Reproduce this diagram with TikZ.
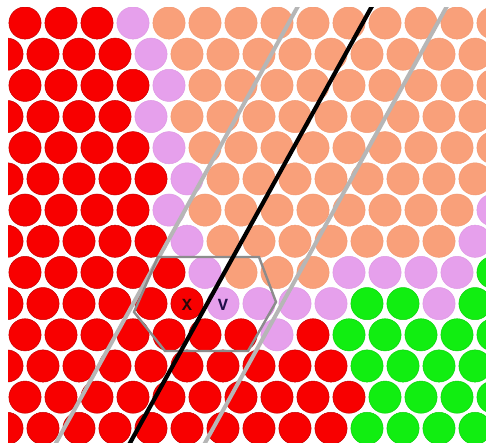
\documentclass[tikz,border=0pt]{standalone}
\usepackage{fontspec}
\newfontfamily\lblfont{Liberation Mono}
\definecolor{cR}{HTML}{F80000}
\definecolor{cP}{HTML}{E6A0EC}
\definecolor{cO}{HTML}{F9A07A}
\definecolor{cG}{HTML}{11EE11}
\definecolor{eR}{HTML}{C40000}
\definecolor{eP}{HTML}{DE98E4}
\definecolor{eO}{HTML}{F29A74}
\definecolor{eG}{HTML}{10D010}
\definecolor{greyln}{HTML}{B6B6B6}
\definecolor{hexln}{HTML}{8C8C8C}
\definecolor{xcol}{HTML}{2A0808}
\definecolor{vcol}{HTML}{22104A}
\tikzset{
  disc/.style={line width=0.5pt},
  greyline/.style={draw=greyln, line width=4pt},
  blackline/.style={draw=black, line width=4.2pt},
  hexline/.style={draw=hexln, line width=2.4pt, line join=miter},
  lbl/.style={font=\lblfont\bfseries\fontsize{17pt}{17pt}\selectfont, inner sep=0pt}
}
\begin{document}
\begin{tikzpicture}[x=1pt,y=-1pt]
\useasboundingbox (0,0) rectangle (486,443);
\fill[white] (0,0) rectangle (486,443);
\begin{scope}
\clip (8,8) rectangle (486,443);
\foreach \row [count=\k from 0] in {
  {R,R,R,P,O,O,O,O,O,O,O,O,O,O},
  {R,R,R,R,P,O,O,O,O,O,O,O,O,O},
  {R,R,R,R,P,O,O,O,O,O,O,O,O,O},
  {R,R,R,R,P,O,O,O,O,O,O,O,O,O},
  {R,R,R,R,P,O,O,O,O,O,O,O,O,O},
  {R,R,R,R,R,P,O,O,O,O,O,O,O,O},
  {R,R,R,R,P,O,O,O,O,O,O,O,O,P},
  {R,R,R,R,R,P,O,O,O,O,O,O,O,P},
  {R,R,R,R,R,P,O,O,O,P,P,P,P,G},
  {R,R,R,R,R,R,P,P,P,P,G,G,P,G},
  {R,R,R,R,R,R,R,P,R,G,G,G,G,G},
  {R,R,R,R,R,R,R,R,R,R,G,G,G,G},
  {R,R,R,R,R,R,R,R,R,R,G,G,G,G},
  {R,R,R,R,R,R,R,R,R,R,G,G,G,G}} {
  \foreach \c [count=\j from 0] in \row {
    \pgfmathsetmacro\xx{25+36*\j-18*mod(\k,2)}
    \pgfmathsetmacro\yy{23+31.18*\k}
    \filldraw[disc, fill=c\c, draw=e\c] (\xx,\yy) circle[radius=16.1pt];
  }
}
\coordinate (gla) at (301.4,0);
\coordinate (glb) at (52.1,450);
\coordinate (gra) at (450.4,0);
\coordinate (grb) at (201.1,450);
\coordinate (bla) at (375.4,0);
\coordinate (blb) at (126.1,450);
\draw[greyline] (gla) -- (glb);
\draw[greyline] (gra) -- (grb);
\draw[hexline] (158,257) -- (259,257) -- (276,302) -- (248,351) -- (165,351) -- (134,312) -- cycle;
\draw[blackline] (bla) -- (blb);
\end{scope}
\node[lbl, text=xcol] (lx) at (187,305) {X};
\node[lbl, text=vcol] (lv) at (223,305) {V};
\end{tikzpicture}
\end{document}
